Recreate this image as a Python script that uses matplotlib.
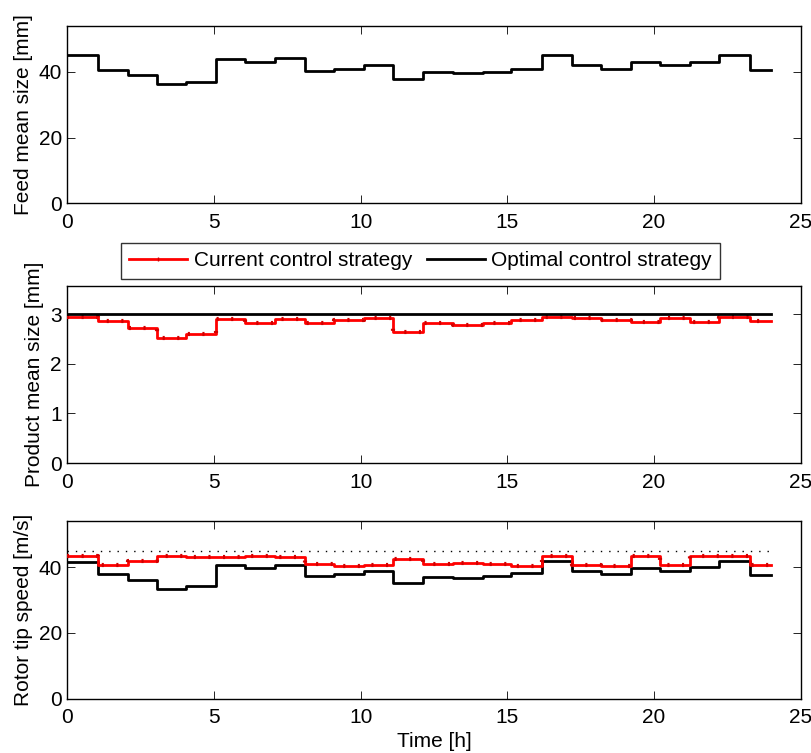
import matplotlib
matplotlib.use("Agg")
import matplotlib.pyplot as plt
import numpy as np
from matplotlib.lines import Line2D

plt.rcParams['font.family'] = ['Liberation Sans', 'DejaVu Sans']
plt.rcParams['font.size'] = 15

# step edges in hours (25 edges -> 24 segments)
edges = [0, 1.04, 2.06, 3.05, 4.05, 5.06, 6.06, 7.08, 8.10, 9.09, 10.11, 11.11,
         12.13, 13.15, 14.16, 15.14, 16.18, 17.21, 18.19, 19.20, 20.20, 21.23,
         22.23, 23.26, 24.0]

feed_size = [45.1, 40.7, 39.2, 36.2, 37.0, 43.8, 43.0, 44.1, 40.2, 40.9, 42.0, 38.0,
             39.9, 39.7, 39.9, 41.0, 45.1, 42.2, 41.0, 42.9, 42.2, 43.1, 45.1, 40.6]

product_current = [2.94, 2.86, 2.72, 2.51, 2.59, 2.90, 2.82, 2.90, 2.82, 2.88, 2.92, 2.64,
                   2.81, 2.78, 2.82, 2.88, 2.94, 2.91, 2.88, 2.83, 2.91, 2.83, 2.94, 2.86]
product_optimal = [3.0] * 24

speed_current = [43.3, 40.5, 41.7, 43.5, 43.0, 43.0, 43.5, 43.0, 40.8, 40.4, 40.7, 42.4,
                 41.0, 41.2, 41.0, 40.3, 43.3, 40.7, 40.4, 43.5, 40.7, 43.5, 43.3, 40.5]
speed_optimal = [41.5, 37.8, 36.2, 33.3, 34.4, 40.7, 39.7, 40.7, 37.3, 37.9, 38.8, 35.2,
                 36.9, 36.8, 37.2, 38.1, 41.7, 38.9, 38.0, 39.8, 38.9, 40.0, 41.7, 37.7]
speed_limit = 45.0

xticks = [0, 5, 10, 15, 20, 25]

fig = plt.figure(figsize=(8.11, 7.53), dpi=100)
ax1 = fig.add_axes([0.083, 0.730, 0.9043, 0.2355])
ax2 = fig.add_axes([0.083, 0.3851, 0.9043, 0.2355])
ax3 = fig.add_axes([0.083, 0.0721, 0.9043, 0.2360])

def stairs(ax, vals, **kw):
    y = list(vals) + [vals[-1]]
    return ax.step(edges, y, where='post', **kw)

def red_stairs(ax, vals, label=None):
    l, = stairs(ax, vals, color='#ff0000', lw=2.0, label=label, zorder=3)
    stairs(ax, vals, color='#d00000', lw=3.0, linestyle=(0, (0.5, 3.0)), zorder=4)
    return l

# Panel 1
stairs(ax1, feed_size, color='black', lw=2.0)
ax1.set_ylim(0, 54)
ax1.set_yticks([0, 20, 40])
ax1.set_ylabel('Feed mean size [mm]', labelpad=4)

# Panel 2
red_stairs(ax2, product_current, label='Current control strategy')
lo, = stairs(ax2, product_optimal, color='black', lw=2.0, label='Optimal control strategy', zorder=5)
ax2.set_ylim(0, 3.57)
ax2.set_yticks([0, 1, 2, 3])
ax2.set_ylabel('Product mean size [mm]', labelpad=4)

# Panel 3
ax3.plot([edges[0], edges[-1]], [speed_limit, speed_limit], color='black', lw=1.0,
         linestyle=(0, (1, 5)))
stairs(ax3, speed_optimal, color='black', lw=2.0, zorder=3)
red_stairs(ax3, speed_current)
ax3.set_ylim(0, 54)
ax3.set_yticks([0, 20, 40])
ax3.set_ylabel('Rotor tip speed [m/s]', labelpad=4)
ax3.set_xlabel('Time [h]', labelpad=3)

for ax in (ax1, ax2, ax3):
    ax.set_xlim(0, 25)
    ax.set_xticks(xticks)
    ax.tick_params(direction='in', top=True, right=True, length=6, width=0.6, labelsize=15)
    ax.tick_params(axis='x', pad=7)
    ax.tick_params(axis='y', pad=4)
    for s in ax.spines.values():
        s.set_linewidth(1.0)

h_cur = Line2D([], [], color='#ff0000', lw=2.0, marker='|', markersize=3, markeredgecolor='#d00000')
leg = fig.legend([h_cur, lo], ['Current control strategy', 'Optimal control strategy'],
                 loc='center', bbox_to_anchor=(0.5185, 0.6534), ncol=2, frameon=True,
                 fancybox=False, edgecolor='black', fontsize=15, handlelength=2.8,
                 columnspacing=0.7, handletextpad=0.3, borderpad=0.4, borderaxespad=0)
leg.get_frame().set_linewidth(1.0)

fig.savefig('out.png', dpi=100)
